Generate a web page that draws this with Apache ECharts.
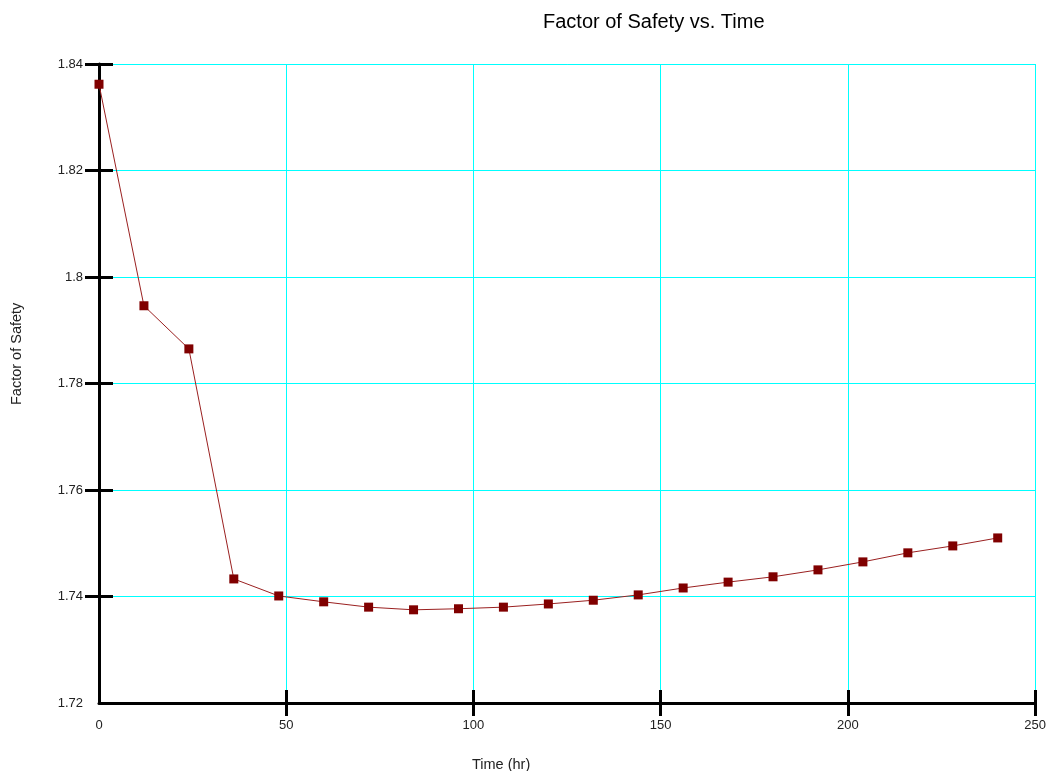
<!DOCTYPE html>
<html>
<head>
<meta charset="utf-8">
<script src="https://cdn.jsdelivr.net/npm/echarts@6/dist/echarts.min.js"></script>
<style>
  html, body { margin: 0; padding: 0; background: #fff; }
  #main { width: 1049px; height: 771px; }
</style>
</head>
<body>
<div id="main"></div>
<script>
// data
var timeHours = [0, 12, 24, 36, 48, 60, 72, 84, 96, 108, 120, 132, 144, 156, 168, 180, 192, 204, 216, 228, 240];
var factorOfSafety = [1.8362, 1.7946, 1.7865, 1.7433, 1.7401, 1.7390, 1.7380, 1.7375, 1.7377, 1.7380, 1.7386,
    1.7393, 1.7403, 1.7416, 1.7427, 1.7437, 1.7450, 1.7465, 1.7482, 1.7495, 1.7510];
var xTicks = { min: 0, max: 250, step: 50 };
var yTicks = { min: 1.72, max: 1.84, step: 0.02 };
// ticks that also stick out past the axis (none at the corner)
var xOuterTicks = [50, 100, 150, 200, 250];
var yOuterTicks = [1.74, 1.76, 1.78, 1.80, 1.82, 1.84];

var points = [];
for (var i = 0; i < timeHours.length; i++) {
    points.push([timeHours[i], factorOfSafety[i]]);
}

var font = '"Liberation Sans", Arial, sans-serif';
var noGrid = { show: false };
var cyanGrid = { show: true, lineStyle: { color: '#00ffff', width: 1 } };
var chart = echarts.init(document.getElementById('main'));

chart.setOption({
    animation: false,
    backgroundColor: '#fff',
    title: {
        text: 'Factor of Safety vs. Time',
        left: 538,
        top: 7,
        textStyle: { fontFamily: font, fontSize: 20, fontWeight: 'normal', color: '#000' }
    },
    grid: { left: 99, right: 13, top: 64, bottom: 68 },
    xAxis: [
        {
            type: 'value',
            min: xTicks.min, max: xTicks.max, interval: xTicks.step,
            axisLine: { show: true, lineStyle: { color: '#000', width: 3 } },
            axisTick: { show: true, inside: true, length: 13, lineStyle: { color: '#000', width: 3 } },
            axisLabel: {
                margin: 16,
                fontFamily: font, fontSize: 13, color: '#222'
            },
            splitLine: cyanGrid
        },
        {
            type: 'value', position: 'bottom',
            min: xTicks.min, max: xTicks.max, interval: xTicks.step,
            axisLine: { show: false },
            axisTick: {
                show: true, inside: false, length: 13, customValues: xOuterTicks,
                lineStyle: { color: '#000', width: 3 }
            },
            axisLabel: { show: false },
            splitLine: noGrid
        }
    ],
    yAxis: [
        {
            type: 'value',
            min: yTicks.min, max: yTicks.max, interval: yTicks.step,
            axisLine: { show: true, lineStyle: { color: '#000', width: 3 } },
            axisTick: { show: true, inside: true, length: 14, lineStyle: { color: '#000', width: 3 } },
            axisLabel: {
                margin: 16,
                fontFamily: font, fontSize: 13, color: '#222',
                formatter: function (v) { return String(parseFloat(v.toFixed(2))); }
            },
            splitLine: cyanGrid
        },
        {
            type: 'value', position: 'left',
            min: yTicks.min, max: yTicks.max, interval: yTicks.step,
            axisLine: { show: false },
            axisTick: {
                show: true, inside: false, length: 14, customValues: yOuterTicks,
                lineStyle: { color: '#000', width: 3 }
            },
            axisLabel: { show: false },
            splitLine: noGrid
        }
    ],
    graphic: [
        {
            type: 'text', left: 472, top: 757,
            style: { text: 'Time (hr)', font: '14.5px ' + font, fill: '#222' }
        },
        {
            type: 'text', x: 9, y: 405, rotation: Math.PI / 2,
            style: { text: 'Factor of Safety', font: '14.5px ' + font, fill: '#222' }
        }
    ],
    series: [{
        type: 'line',
        xAxisIndex: 0,
        yAxisIndex: 0,
        data: points,
        symbol: 'rect',
        symbolSize: 9,
        itemStyle: { color: '#800000' },
        lineStyle: { color: '#9a2020', width: 1 }
    }]
});
</script>
</body>
</html>
